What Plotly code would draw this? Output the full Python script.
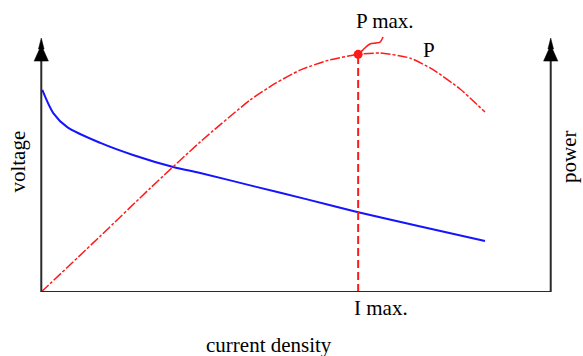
import plotly.graph_objects as go

# Polarisation (voltage) curve: current density vs. cell voltage
current_v = [0.02, 0.235, 0.51, 1.16, 1.80, 2.59, 3.12, 4.20, 5.20, 6.20, 7.40, 8.71]
voltage = [8.05, 7.13, 6.57, 5.94, 5.46, 4.98, 4.74, 4.20, 3.70, 3.19, 2.63, 2.03]

# Power curve: current density vs. power
current_p = [0.0, 1.16, 2.14, 3.12, 4.10, 4.60, 5.08, 5.63, 6.22, 6.65, 7.24, 7.69, 8.22, 8.71]
power = [0.0, 2.23, 4.14, 5.98, 7.65, 8.32, 8.84, 9.23, 9.47, 9.52, 9.32, 8.86, 8.09, 7.17]

# Operating point of maximum power
i_max = 6.22
p_max = 9.47

# Leader line from the maximum-power point to its label
leader_x = [6.22, 6.31, 6.45, 6.57, 6.65, 6.71]
leader_y = [9.47, 9.64, 9.88, 9.92, 9.96, 10.16]

RED = "#ff1a1a"
BLUE = "#1414ff"
AXIS = "#2a2a2a"
FONT = "Liberation Serif"

fig = go.Figure()

fig.add_trace(go.Scatter(
    x=current_v, y=voltage, mode="lines",
    line=dict(color=BLUE, width=2, shape="spline", smoothing=0.8),
    hoverinfo="skip",
))
fig.add_trace(go.Scatter(
    x=current_p, y=power, mode="lines",
    line=dict(color=RED, width=1.5, shape="spline", smoothing=0.6,
              dash="10px,2px,3px,2px"),
    hoverinfo="skip",
))
fig.add_trace(go.Scatter(
    x=[i_max, i_max], y=[0, p_max], mode="lines",
    line=dict(color=RED, width=2, dash="8px,4px"),
    hoverinfo="skip",
))
fig.add_trace(go.Scatter(
    x=leader_x, y=leader_y, mode="lines",
    line=dict(color=RED, width=1.5, shape="spline", smoothing=1),
    hoverinfo="skip",
))
fig.add_trace(go.Scatter(
    x=[i_max], y=[p_max], mode="markers",
    marker=dict(color=RED, size=9),
    hoverinfo="skip",
))

# Axes: two vertical arrows joined by the current-density baseline
shapes = [
    dict(type="line", xref="x", yref="y", x0=0, x1=10, y0=0, y1=0,
         line=dict(color=AXIS, width=2)),
]


def arrow_axis(x):
    w1, w2, w3 = 0.055, 0.035, 0.14
    path = (f"M {x},10.12 L {x + w1},9.68 L {x + w2},9.68 L {x + w3},9.2 "
            f"L {x - w3},9.2 L {x - w2},9.68 L {x - w1},9.68 Z")
    return [
        dict(type="line", xref="x", yref="y", x0=x, x1=x, y0=0, y1=9.3,
             line=dict(color=AXIS, width=2)),
        dict(type="path", xref="x", yref="y", path=path,
             fillcolor="black", line=dict(color="black", width=0.5)),
    ]


shapes += arrow_axis(0)
shapes += arrow_axis(10)

text_font = dict(family=FONT, size=21, color="black")
annotations = [
    dict(text="voltage", xref="paper", yref="paper", x=-0.0165, y=0.5,
         textangle=-90, showarrow=False, font=text_font,
         xanchor="center", yanchor="middle"),
    dict(text="power", xref="paper", yref="paper", x=1.0055, y=0.517,
         textangle=-90, showarrow=False, font=text_font,
         xanchor="center", yanchor="middle"),
    dict(text="current density", xref="paper", yref="paper", x=0.45, y=-0.203,
         showarrow=False, font=text_font, xanchor="center", yanchor="middle"),
    dict(text="I max.", xref="x", yref="paper", x=i_max, xshift=-6, y=-0.061,
         showarrow=False, font=text_font, xanchor="left", yanchor="middle"),
    dict(text="P max.", xref="x", yref="paper", x=i_max, xshift=-4, y=1.04,
         showarrow=False, font=text_font, xanchor="left", yanchor="middle"),
    dict(text="P", xref="x", yref="y", x=7.61, y=9.64,
         showarrow=False, font=text_font, xanchor="center", yanchor="middle"),
]

fig.update_layout(
    width=583, height=356,
    margin=dict(l=26, r=17, t=31, b=64),
    paper_bgcolor="white", plot_bgcolor="white",
    showlegend=False,
    xaxis=dict(range=[-0.3, 10.3], visible=False, fixedrange=True),
    yaxis=dict(range=[0, 10.4], visible=False, fixedrange=True),
    shapes=shapes,
    annotations=annotations,
)

fig.write_html("out.html", config={"displayModeBar": False})
